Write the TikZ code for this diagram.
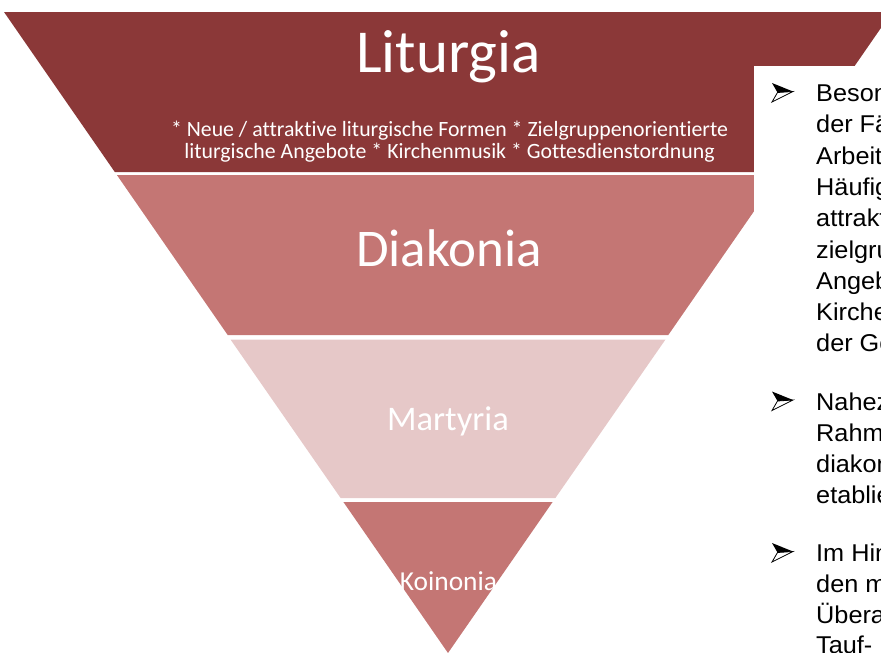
\documentclass[tikz,border=0pt]{standalone}
\usepackage{fontspec}
\setmainfont{Carlito}[Ligatures=NoCommon]
\newfontfamily\arialf{Liberation Sans}[FakeStretch=1.04]
\definecolor{cLit}{RGB}{139,56,56}
\definecolor{cDia}{RGB}{196,118,116}
\definecolor{cMar}{RGB}{230,200,200}
\tikzset{
  lbl/.style={text=white, anchor=base, inner sep=0pt},
  bl/.style={anchor=base west, inner sep=0pt, font=\arialf\fontsize{24.3}{29}\selectfont, text=black},
  bulletarrow/.pic={
    \fill[black] (-10,-18.5) -- (11,-10) -- (-4.5,-9) -- cycle;
    \draw[black, line width=0.8pt, line join=miter] (-4.5,-9) -- (11,-10) -- (-10,0.5) -- cycle;
  },
}
\begin{document}
\begin{tikzpicture}[x=1pt,y=-1pt]
\useasboundingbox (0,0) rectangle (881,653);
\clip (0,0) rectangle (881,653);
% bands
\fill[cLit] (4,12) -- (892,12) -- (781.2,172) -- (114.8,172) -- cycle;
\fill[cDia] (116.9,175) -- (779.1,175) -- (668.3,335) -- (227.7,335) -- cycle;
\fill[cMar] (230.5,339.5) -- (665.5,339.5) -- (555.4,498) -- (340.6,498) -- cycle;
\fill[cDia] (343.4,502) -- (552.6,502) -- (448,653) -- cycle;
% labels
\node[lbl, font=\fontsize{61}{72}\selectfont] (lit) at (448.5,72) {Liturgia};
\node[lbl, font=\fontsize{21.8}{25}\selectfont] (lit1) at (449.5,136) {* Neue / attraktive liturgische Formen * Zielgruppenorientierte};
\node[lbl, font=\fontsize{21.8}{25}\selectfont] (lit2) at (449.5,158) {liturgische Angebote * Kirchenmusik * Gottesdienstordnung};
\node[lbl, font=\fontsize{53}{60}\selectfont] (dia) at (449,266.5) {Diakonia};
\node[lbl, font=\fontsize{34.5}{40}\selectfont] (mar) at (448,430) {Martyria};
\node[lbl, font=\fontsize{27.4}{32}\selectfont] (koi) at (448.5,590.5) {Koinonia};
% text box
\fill[white] (754,66) rectangle (900,700);
\pic at (782,101.5) {bulletarrow};
\node[bl] (t1) at (816,101.5) {Besonders};
\node[bl] (t2) at (816,132.8) {der Fälle};
\node[bl] (t3) at (816,164.1) {Arbeit};
\node[bl] (t4) at (816,195.4) {Häufig};
\node[bl] (t5) at (816,226.7) {attraktive};
\node[bl] (t6) at (816,258) {zielgruppen};
\node[bl] (t7) at (816,289.3) {Angebote};
\node[bl] (t8) at (816,320.6) {Kirchenmusik};
\node[bl] (t9) at (816,351.9) {der Gottesdienst};
\pic at (782,410) {bulletarrow};
\node[bl] (u1) at (816,410) {Nahezu};
\node[bl] (u2) at (816,441) {Rahmen};
\node[bl] (u3) at (816,472) {diakonische};
\node[bl] (u4) at (816,503) {etabliert};
\pic at (782,561.5) {bulletarrow};
\node[bl] (v1) at (816,561.5) {Im Hinblick};
\node[bl] (v2) at (816,592.3) {den meisten};
\node[bl] (v3) at (816,623.1) {Überall};
\node[bl] (v4) at (816,653.9) {Tauf-};
\end{tikzpicture}
\end{document}
